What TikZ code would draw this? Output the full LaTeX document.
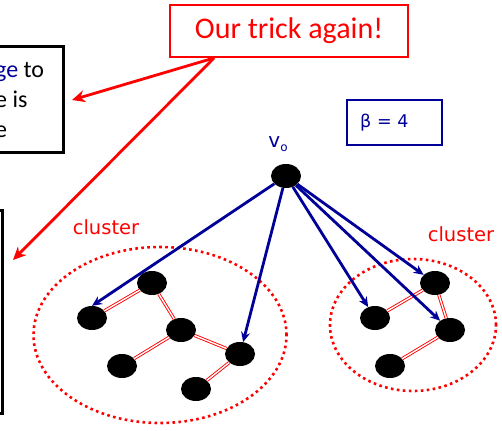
\documentclass[tikz,border=0pt]{standalone}
\usepackage{fontspec}
\setmainfont{Carlito}
\newfontfamily\verd{DejaVu Sans}
\usetikzlibrary{arrows.meta,shapes.geometric}
\definecolor{dkblue}{HTML}{000099}

\begin{document}
\begin{tikzpicture}[x=1pt, y=-1pt,
  vtx/.style={ellipse, fill=black, inner sep=0pt, minimum width=30pt, minimum height=24pt},
  tree/.style={draw=red, double=white, double distance=1.4pt, line width=0.9pt},
  hop/.style={draw=dkblue, line width=2.8pt, -{Stealth[length=10pt, width=9pt]}},
  hint/.style={draw=red, line width=2.8pt, -{Stealth[length=13pt, width=12pt]}},
  blob/.style={ellipse, draw=red, line width=2.6pt, dash pattern=on 2.6pt off 3.4pt},
  note/.style={anchor=base west, inner sep=0pt, font=\fontsize{24}{30}\selectfont},
  lbl/.style={text=red, font=\verd\fontsize{19.5}{23}\selectfont}]
\clip (0,0) rectangle (502,430);
% boxes cut off at the left edge
\draw[line width=3pt] (-20,47) rectangle (63,153);
\draw[line width=3pt] (-20,210) rectangle (2,413);
\node[note] (noteA) at (-5,78) {\textcolor{dkblue}{ge} to};
\node[note] (noteB) at (-5,108) {e is};
\node[note] (noteC) at (-5,138) {e};
% clusters
\node[blob, minimum width=253pt, minimum height=176pt] (clusL) at (160,335) {};
\node[blob, minimum width=166pt, minimum height=132pt] (clusR) at (413,325) {};
\node[lbl] (cl1) at (106,227) {cluster};
\node[lbl] (cl2) at (461,234) {cluster};
% vertices
\node[vtx] (v0) at (286,176) {};
\node[vtx] (a1) at (92,318) {};
\node[vtx] (a2) at (152,283) {};
\node[vtx] (a3) at (181,330) {};
\node[vtx] (a4) at (122,366) {};
\node[vtx] (a5) at (240,354) {};
\node[vtx] (a6) at (196,389) {};
\node[vtx] (b1) at (375,318) {};
\node[vtx] (b2) at (435,283) {};
\node[vtx] (b3) at (450,330) {};
\node[vtx] (b4) at (390,366) {};
\node[text=dkblue, font=\verd\fontsize{20}{22}\selectfont, anchor=base] (v0lbl) at (278,148)
  {v\raisebox{-0.3ex}{\fontsize{12}{12}\selectfont o}};
\foreach \a/\b in {a1/a2, a2/a3, a3/a4, a3/a5, a5/a6, b1/b2, b2/b3, b3/b4} \draw[tree] (\a) -- (\b);
\draw[hop] (v0) -- (a1.north);
\foreach \t in {a5, b1, b3, b2} \draw[hop] (v0) -- (\t);
% labels
\node[draw=red, line width=2pt, text=red, minimum width=238pt, minimum height=52pt,
  font=\fontsize{30}{36}\selectfont] (trick) at (289,31) {Our trick again!};
\node[draw=dkblue, line width=2.5pt, text=dkblue, minimum height=45pt, text width=69pt,
  inner xsep=13pt, align=left, font=\verd\fontsize{17.5}{20}\selectfont] (beta) at (394.5,122.5) {β = 4};
\coordinate (hsrc) at ([xshift=-75pt]trick.south);
\coordinate (hA) at (72,100);
\coordinate (hB) at (13,260);
\draw[hint] (hsrc) -- (hA);
\draw[hint] (hsrc) -- (hB);
\end{tikzpicture}
\end{document}
